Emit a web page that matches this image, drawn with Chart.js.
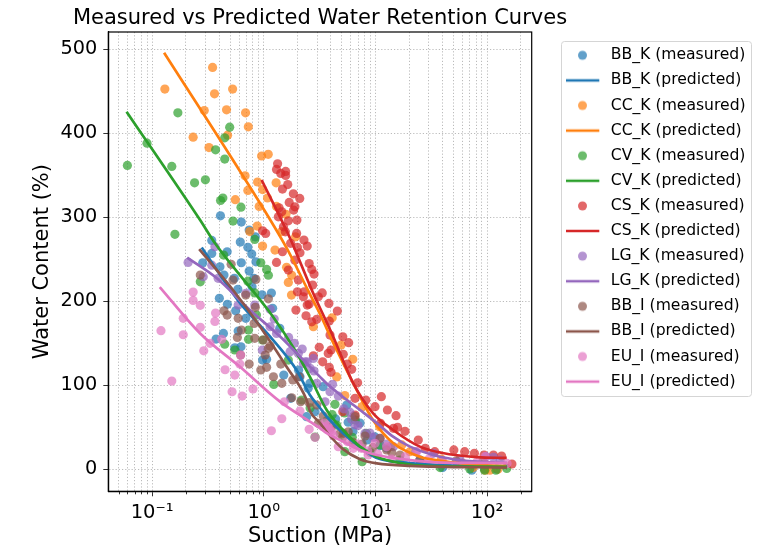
<!DOCTYPE html>
<html><head><meta charset="utf-8">
<style>html,body{margin:0;padding:0;background:#fff}canvas{display:block}</style>
<script src="https://cdn.jsdelivr.net/npm/chart.js@4"></script>
</head><body><canvas id="c" width="758" height="548"></canvas>
<script>
const seriesNames=["BB_K","CC_K","CV_K","CS_K","LG_K","BB_I","EU_I"];
const seriesColors=["31,119,180","255,127,14","44,160,44","214,39,40","148,103,189","140,86,75","227,119,194"];
const xTickValues=[0.05,0.06,0.07,0.08,0.09,0.1,0.2,0.3,0.4,0.5,0.6,0.7,0.8,0.9,1,2,3,4,5,6,7,8,9,10,20,30,40,50,60,70,80,90,100,200];
const xTickLabels={0.1:"10⁻¹",1:"10⁰",10:"10¹",100:"10²"};
const yTickValues=[0,100,200,300,400,500];

const BB_K_suction=[.409,.629,.74,.84,.342,.616,.72,.47,.342,.284,.78,.851,.629,.405,.44,.74,.545,.815,.586,.785,.4,.472,.965,1.17,1.2,.56,.59,.435,.374,.625,.55,1.39,.69,.976,1.06,2.05,1.51,2.11,2.59,2.5,1.74,2.88,2.42,3.4,5.53,7.28,12.6,25,40,73,95,122,5.7,9.9,4.4,6.3,8.4,11];
const BB_K_water=[301.8,294.3,284.8,276.8,272.5,270.5,264.2,259,257,245.9,256.2,247,245.9,241,231.2,236,227.3,227.3,214.2,217.3,203.5,196.4,207.8,209.8,191.6,188.7,164.6,161.8,155,145.9,144.7,167.8,179.7,130,130.9,118,112.2,110.2,102.3,96.4,84.5,68.5,62.6,98.3,76.5,55,25.3,11,2,-1,0.5,0.5,56,38.5,60,45,35,28];
const BB_K_predSuction=[.278,.612,1.14,1.97,2.59,3.19,3.66,5.13,7.28,10.3,20.4,151];
const BB_K_predWater=[264,198,158,118,88.5,73,62.6,43,26.5,13.5,7.5,3];

const CC_K_suction=[.348,.13,.362,.526,.293,.464,.687,.727,.474,.233,.323,.956,1.096,.68,.88,1.29,.72,.976,1.08,.556,.91,1.3,1.58,.874,.75,.976,1.45,1.93,1.26,1.6,1.78,1.66,1.77,2.78,4.1,4.93,6.27,4.5,5.32,7.6,10.9,13.7,17.2,20.4,39,60,75,96,106,125];
const CC_K_water=[478.4,452.7,447,452.7,427,428,424.4,407.7,397.8,395.4,383,373,375,349.4,342,341,332,333,323,321,313,313,303.5,289.5,283,265.7,283,276.8,261,240.4,231,222.5,207.4,169.7,180.4,148,131,110,87.8,74.5,50.7,27,29,21,12,7.5,2,-1,-1,0];
const CC_K_predSuction=[.128,.752,1.6,2.49,3.06,4.5,6.79,9.5,14.4,25,38.7,70,148];
const CC_K_predWater=[496,336,263.5,213,189.6,142,94.4,58.7,31.3,15,10.2,6,4];

const CV_K_suction=[.06,.09,.17,.15,.24,.3,.495,.447,.37,.447,.43,.41,.625,.53,.16,.83,.437,.94,1.06,1.1,.27,.72,.83,.86,.73,.447,.73,.55,.976,1.23,1.66,2.18,2.6,4.34,5.3,4.5,2.88,5.32,7.6,6.6,8.3,11,16.6,38,70,95,120,150,3.7,6.2,9,4.1];
const CV_K_water=[361.8,388.3,424.4,360.6,341,344.6,407.3,394.6,380.3,369.3,323,320,312,295.5,279.7,273.7,255,245.9,238,231,223.2,224,210,183.6,165.8,149,154.7,142,153.9,101,130,82.5,73,77.4,67,52.7,38.4,21,9,58.7,42.8,29,11,2,0.5,-1,-1,1,58,38,20,65];
const CV_K_predSuction=[.059,.268,.366,1.21,1.9,2.59,3.66,5.13,7.28,10.3,16.6,29,151];
const CV_K_predWater=[425.7,297,269,181.7,142,110,70.6,46.8,27,15,7.5,4,3];

const CS_K_suction=[1.33,1.3,1.42,1.57,1.57,1.64,1.47,1.84,2.1,1.69,1.9,1.37,1.85,1.45,1.35,1.66,1.98,1.5,1.56,1.97,.976,1.04,2.29,2.45,1.74,2,1.47,2.11,1.3,1.66,1.9,2.55,2.69,2.82,2.04,2.74,2,2.3,3.34,3.08,2.26,2.45,3.83,1.94,4.56,2.55,2.39,2.69,2.98,3.86,3.92,5.1,5.76,3.14,4,3.78,5.15,2.78,3.37,3.86,4,5.6,6.13,6.93,11.3,6.57,8.2,9.92,12.8,15.3,5.1,6.57,11.1,14.5,15.8,18.4,24.2,27.9,34,50.4,63,77,94,114,135,167];
const CS_K_water=[363.7,357,352.2,354.6,349.9,339,333.6,328,322.5,317.7,312.5,311.3,308.6,306.5,300.6,295.8,296.7,288.7,282.7,280.8,284,280.8,272.9,265.7,269,264.2,259,257.8,246.3,237.2,249,245,238,232.4,225.3,219.3,211.3,211.3,210,205.4,205.4,195.5,197.5,189.6,188.4,196.7,182.8,175.6,178.5,176.5,159.8,157.8,150.7,145.2,142,138,136.9,135.2,128,121.4,115.4,125.3,119,103,86.4,84.5,82.5,74.5,70.6,63.8,68.5,64.6,54.7,48.8,50,45.2,34.9,25,21,23,21,19,17,17,15.8,6.3];
const CS_K_predSuction=[.957,1.72,2.69,4.06,6.3,9.5,14.4,25,40,81,150];
const CS_K_predWater=[344.4,275,213.5,162,103,67,46.8,27,19.4,14.6,13.5];

const LG_K_suction=[.21,.365,.342,.287,.39,.69,.59,1.14,1.24,.83,1.14,1.3,1.67,1.88,2.21,.97,1.72,2.45,2.78,2.26,2.98,2.04,2.34,2.6,2.82,4.13,3.92,4.65,3.54,5.9,6.57,8.07,8.93,11,14.5,23,33,57,98,114,131,7,9.5,5.2,6.1,12.5];
const LG_K_water=[246.3,265,243,229.2,227.3,209.4,195.5,190.4,178.9,195.5,169.7,161.8,157,150,143.2,142,140,128,132,126,102.3,138,128,120.2,117,101.2,92.3,87.2,80.4,68,53,42.8,43.2,36.9,26.9,21,19,11.9,15,14.3,11,52,38,72,60,30];
const LG_K_predSuction=[.206,.378,.752,1.4,2.59,3.19,3.66,5.13,7.28,10.3,14.4,20.4,32.8,57,151];
const LG_K_predWater=[252,227.7,189.6,158,122,110,102,86,70.6,55,38.8,27,17,11,7.5];

const BB_I_suction=[.51,.27,.53,.85,.69,1.1,.44,.47,.59,.84,.82,.63,.58,.83,.99,1.14,1.1,1.03,.62,.74,1.06,.94,1.42,1.22,1.45,1.82,1.78,2.08,2.14,2.55,2.98,3.41,3.08,4.82,5.71,6.57,11,5.15,8.07,12.6,16.6,25,53,92,5.1,6.3,7.6,9.5,4,14];
const BB_I_water=[244,231.2,225.3,226,207.4,203,188.7,183.6,179.7,192.8,173.7,165.8,157,155.9,153.9,146.7,144,136,136,125.3,121.4,118.2,125.3,110.2,102.3,106.3,85.2,110.2,80.4,79.3,76.5,63.4,54.7,42.8,44.7,62.6,36.9,42.8,39.6,23,17,11,10,10,38.5,32,30,26,50,20];
const BB_I_predSuction=[.264,.53,.925,1.6,2.42,2.59,3.19,3.66,5.13,7.28,10.3,20.4,151];
const BB_I_predWater=[262,213.5,170,122,82.5,69.4,55,44.4,24,12,7,4,2];

const EU_I_suction=[.233,.233,.27,.19,.37,.365,.12,.19,.27,.42,.33,.29,.62,.61,.45,.55,.15,.52,.64,.8,1.53,1.45,1.17,2.11,2.55,2.88,3.78,3.92,3.41,4.65,6.34,7.5,4.06,12.6,9.92,8.6,18.5,23.4,40,81,96,151,3.7,3.5,4.2,5.6,7,8.5,10.5,14,30];
const EU_I_water=[211,201,195.2,179.7,186,176,165,160.2,169,154.7,150,141,136,125.3,118.5,112.2,105,92.3,87.2,95.6,80.4,60.2,45.9,69.4,47.6,38,52.7,46.8,50.7,26.9,25,25,44.7,26.9,31,17,15,21,10,8.7,15,7,49,55,40,33,30,22,18,12,12];
const EU_I_predSuction=[.117,.268,.612,1.4,2.59,3.19,3.66,5.13,7.28,10.3,20.4,40,151];
const EU_I_predWater=[217,162,122,80.5,56.7,49,43,33,23,17,11,8,7.5];

const measuredSuction=[BB_K_suction,CC_K_suction,CV_K_suction,CS_K_suction,LG_K_suction,BB_I_suction,EU_I_suction];
const measuredWater=[BB_K_water,CC_K_water,CV_K_water,CS_K_water,LG_K_water,BB_I_water,EU_I_water];
const predictedSuction=[BB_K_predSuction,CC_K_predSuction,CV_K_predSuction,CS_K_predSuction,LG_K_predSuction,BB_I_predSuction,EU_I_predSuction];
const predictedWater=[BB_K_predWater,CC_K_predWater,CV_K_predWater,CS_K_predWater,LG_K_predWater,BB_I_predWater,EU_I_predWater];

const FONT='"DejaVu Sans"';
const pairs=(xs,ys)=>xs.map((x,i)=>({x,y:ys[i]}));
function dotIcon(rgb){const c=document.createElement('canvas');c.width=37;c.height=12;const g=c.getContext('2d');
  g.fillStyle=`rgba(${rgb},0.7)`;g.beginPath();g.arc(16.5,6,4.5,0,7);g.fill();return c;}
function lineIcon(rgb){const c=document.createElement('canvas');c.width=37;c.height=12;const g=c.getContext('2d');
  g.fillStyle=`rgb(${rgb})`;g.fillRect(0,4.75,33.3,2.5);return c;}

const datasets=[];
seriesNames.forEach((n,i)=>{
  const rgb=seriesColors[i];
  datasets.push({label:n+" (measured)",data:pairs(measuredSuction[i],measuredWater[i]),
    backgroundColor:`rgba(${rgb},0.7)`,borderWidth:0,pointRadius:4.6,pointHoverRadius:4.6,order:200-i});
  datasets.push({label:n+" (predicted)",data:pairs(predictedSuction[i],predictedWater[i]),showLine:true,
    borderColor:`rgb(${rgb})`,borderWidth:2.7,pointRadius:0,cubicInterpolationMode:'monotone',order:100-i});
});

const framePlugin={id:'frame',
  afterLayout(chart){const l=chart.legend;const w=l.width,h=l.height;l.left=556.5;l.right=556.5+w;l.top=38;l.bottom=38+h;
    const t=chart.titleBlock;t.left+=54.15;t.right+=54.15;},
  beforeDraw(chart){const g=chart.ctx;g.save();g.fillStyle='#fff';g.strokeStyle='#d5d5d5';g.lineWidth=1;
    g.beginPath();g.roundRect(561.5,41.5,190,355,3);g.fill();g.stroke();g.restore();},
  afterDraw(chart){const g=chart.ctx,a=chart.chartArea;g.save();g.strokeStyle='#000';g.lineWidth=1.2;
    g.strokeRect(a.left,a.top,a.right-a.left,a.bottom-a.top);
    const sx=chart.scales.x;g.lineWidth=0.8;g.beginPath();
    xTickValues.forEach(v=>{if(!xTickLabels[v]){const p=Math.round(sx.getPixelForValue(v))+.5;g.moveTo(p,a.bottom);g.lineTo(p,a.bottom+3);}});
    g.stroke();g.restore();}
};

new Chart(document.getElementById('c'),{
  type:'scatter',
  data:{datasets},
  plugins:[framePlugin],
  options:{responsive:false,animation:false,devicePixelRatio:1,
    layout:{padding:{left:0,top:0,right:226.3,bottom:0}},
    plugins:{
      tooltip:{enabled:false},
      title:{display:true,text:"Measured vs Predicted Water Retention Curves",color:'#000',
        font:{family:FONT,size:21,weight:'normal'},padding:{top:5.5,bottom:1.3}},
      legend:{display:true,position:'chartArea',align:'start',
        labels:{usePointStyle:true,pointStyleWidth:37,padding:9.5,color:'#000',font:{family:FONT,size:15.6},
          generateLabels(){return datasets.map((d,i)=>{const k=Math.floor(i/2),rgb=seriesColors[k];
            return {text:d.label,datasetIndex:i,pointStyle:i%2?lineIcon(rgb):dotIcon(rgb),lineWidth:0,hidden:false,fontColor:'#000'};});}}}
    },
    scales:{
      x:{type:'logarithmic',min:0.0405,max:251,
        afterBuildTicks(s){s.ticks=xTickValues.map(v=>({value:v,major:!!xTickLabels[v]}));},
        afterFit(s){s.height=56.7;},
        title:{display:true,text:"Suction (MPa)",color:'#000',font:{family:FONT,size:21},padding:{top:2,bottom:-1.5}},
        ticks:{autoSkip:false,maxRotation:0,color:'#000',font:{family:FONT,size:19.5},padding:5,
          callback(v){return xTickLabels[v]||"";}},
        border:{display:true,color:'#000',width:1.2,dash:[1.2,2]},
        grid:{color:'#aaaaaa',lineWidth:0.8,tickLength:5,tickColor:c=>c.tick&&c.tick.major?'#000':'rgba(0,0,0,0)',tickBorderDash:[]}},
      y:{type:'linear',min:-26.2,max:520.6,
        afterFit(s){s.width=108.3;},
        title:{display:true,text:"Water Content (%)",color:'#000',font:{family:FONT,size:21},padding:{top:30,bottom:0}},
        afterBuildTicks(s){s.ticks=yTickValues.map(v=>({value:v}));},
        ticks:{color:'#000',font:{family:FONT,size:19.3},padding:6},
        border:{display:true,color:'#000',width:1.2,dash:[1.2,2]},
        grid:{color:'#aaaaaa',lineWidth:0.8,tickLength:5,tickColor:'#000',tickBorderDash:[]}}
    }
  }
});
</script></body></html>
